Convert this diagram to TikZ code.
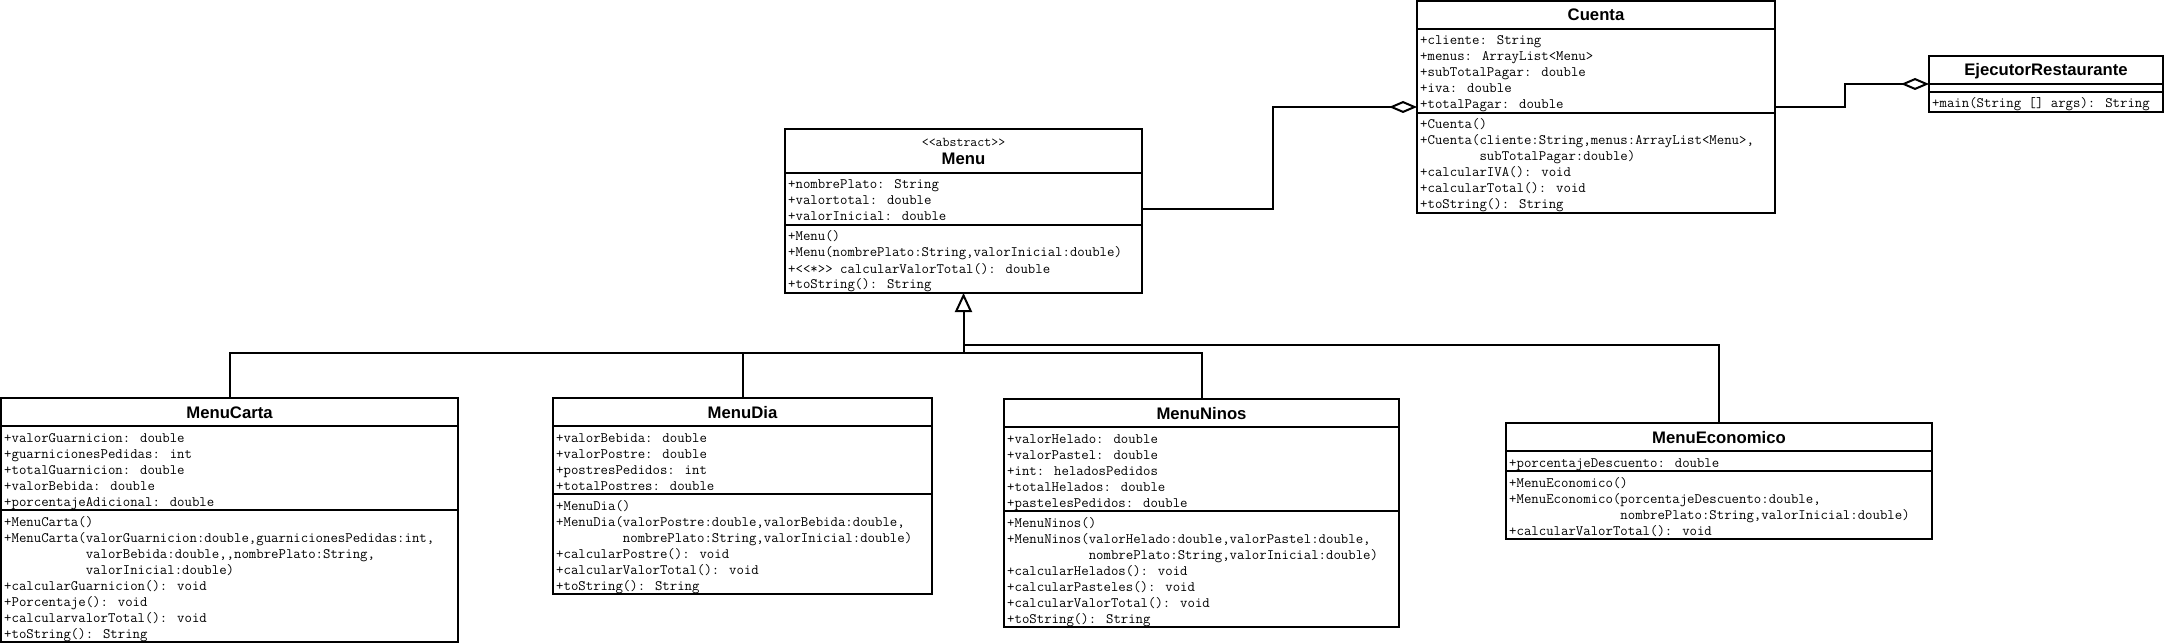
\documentclass[tikz,border=0pt]{standalone}
\usepackage{fontspec}
\setsansfont{Liberation Sans}
\usetikzlibrary{arrows.meta}
\tikzset{
  cbox/.style={draw, line width=2pt, fill=white, inner sep=0pt, outer sep=0pt, anchor=north west},
  sepline/.style={line width=2pt},
  conn/.style={line width=2pt, line join=miter},
  rowtext/.style={anchor=base west, inner sep=0pt, font=\ttfamily\fontsize{14.4}{16}\selectfont},
  titletext/.style={anchor=base, inner sep=0pt, font=\sffamily\bfseries\fontsize{16.7}{20}\selectfont},
  stereo/.style={anchor=base, inner sep=0pt, font=\ttfamily\fontsize{13.5}{14}\selectfont},
  aggtip/.tip={Diamond[open, length=28pt, width=12pt]},
  gentip/.tip={Triangle[open, length=19pt, width=17pt]},
}
\newcommand\umlrows[4]{\foreach \rowtxt [count=\ri] in {#4} {\node[rowtext, name=#1-\ri] at (#2+3, #3+16*\ri) {\rowtxt};}}
\newcommand\umlsep[2]{\draw[sepline] (#1.west |- 0,#2) -- (#1.east |- 0,#2);}
\begin{document}
\begin{tikzpicture}[x=1pt, y=-1pt]
\useasboundingbox (0,0) rectangle (2165,644);
\fill[white] (0,0) rectangle (2165,644);

% ---------- Cuenta ----------
\node[cbox, minimum width=358pt, minimum height=212pt] (cuenta) at (1417,1) {};
\node[titletext] (cuenta-t) at (cuenta.north |- 0,21) {Cuenta};
\umlsep{cuenta}{29}
\umlsep{cuenta}{113}
\umlrows{cuentaA}{1417}{29}{+cliente: String, +menus: ArrayList<Menu>, +subTotalPagar: double, +iva: double, +totalPagar: double}
\umlrows{cuentaM}{1417}{113}{+Cuenta(), {+Cuenta(cliente:String,menus:ArrayList<Menu>,}, \hphantom{+Cuenta(}subTotalPagar:double), +calcularIVA(): void, +calcularTotal(): void, +toString(): String}

% ---------- EjecutorRestaurante ----------
\node[cbox, minimum width=234pt, minimum height=56pt] (ejecutor) at (1929,56) {};
\node[titletext] (ejecutor-t) at (ejecutor.north |- 0,76) {EjecutorRestaurante};
\umlsep{ejecutor}{84}
\umlsep{ejecutor}{92}
\umlrows{ejecutorM}{1929}{92}{+main(String [] args): String}

% ---------- Menu ----------
\node[cbox, minimum width=357pt, minimum height=164pt] (menu) at (785,129) {};
\node[stereo] (menu-s) at (menu.north |- 0,147) {<{}<abstract>{}>};
\node[titletext] (menu-t) at (menu.north |- 0,165) {Menu};
\umlsep{menu}{173}
\umlsep{menu}{225}
\umlrows{menuA}{785}{173}{+nombrePlato: String, +valortotal: double, +valorInicial: double}
\umlrows{menuM}{785}{225}{+Menu(), {+Menu(nombrePlato:String,valorInicial:double)}, +<{}<*>{}> calcularValorTotal(): double, +toString(): String}

% ---------- MenuCarta ----------
\node[cbox, minimum width=457pt, minimum height=244pt] (carta) at (1,398) {};
\node[titletext] (carta-t) at (carta.north |- 0,418) {MenuCarta};
\umlsep{carta}{426}
\umlsep{carta}{510}
\umlrows{cartaA}{1}{426}{+valorGuarnicion: double, +guarnicionesPedidas: int, +totalGuarnicion: double, +valorBebida: double, +porcentajeAdicional: double}
\umlrows{cartaM}{1}{510}{+MenuCarta(), {+MenuCarta(valorGuarnicion:double,guarnicionesPedidas:int,}, {\hphantom{+MenuCarta(}valorBebida:double,,nombrePlato:String,}, \hphantom{+MenuCarta(}valorInicial:double), +calcularGuarnicion(): void, +Porcentaje(): void, +calcularvalorTotal(): void, +toString(): String}

% ---------- MenuDia ----------
\node[cbox, minimum width=379pt, minimum height=196pt] (dia) at (553,398) {};
\node[titletext] (dia-t) at (dia.north |- 0,418) {MenuDia};
\umlsep{dia}{426}
\umlsep{dia}{494}
\umlrows{diaA}{553}{426}{+valorBebida: double, +valorPostre: double, +postresPedidos: int, +totalPostres: double}
\umlrows{diaM}{553}{494}{+MenuDia(), {+MenuDia(valorPostre:double,valorBebida:double,}, {\hphantom{+MenuDia(}nombrePlato:String,valorInicial:double)}, +calcularPostre(): void, +calcularValorTotal(): void, +toString(): String}

% ---------- MenuNinos ----------
\node[cbox, minimum width=395pt, minimum height=228pt] (ninos) at (1004,399) {};
\node[titletext] (ninos-t) at (ninos.north |- 0,419) {MenuNinos};
\umlsep{ninos}{427}
\umlsep{ninos}{511}
\umlrows{ninosA}{1004}{427}{+valorHelado: double, +valorPastel: double, +int: heladosPedidos, +totalHelados: double, +pastelesPedidos: double}
\umlrows{ninosM}{1004}{511}{+MenuNinos(), {+MenuNinos(valorHelado:double,valorPastel:double,}, {\hphantom{+MenuNinos(}nombrePlato:String,valorInicial:double)}, +calcularHelados(): void, +calcularPasteles(): void, +calcularValorTotal(): void, +toString(): String}

% ---------- MenuEconomico ----------
\node[cbox, minimum width=426pt, minimum height=116pt] (eco) at (1506,423) {};
\node[titletext] (eco-t) at (eco.north |- 0,443) {MenuEconomico};
\umlsep{eco}{451}
\umlsep{eco}{471}
\umlrows{ecoA}{1506}{451}{+porcentajeDescuento: double}
\umlrows{ecoM}{1506}{471}{+MenuEconomico(), {+MenuEconomico(porcentajeDescuento:double,}, {\hphantom{+MenuEconomico(}nombrePlato:String,valorInicial:double)}, +calcularValorTotal(): void}

% ---------- connectors ----------
\coordinate (hub) at (menu.south |- 0,353);
\coordinate (hubE) at (menu.south |- 0,345);
\draw[conn, aggtip-] (cuenta.west |- 0,107) -- (1273,107) |- (menu.east |- 0,209);
\draw[conn, -aggtip] (cuenta.east |- 0,107) -- (1845,107) |- (ejecutor.west |- 0,84);
\draw[conn, -gentip] (hub) -- (menu.south);
\draw[conn] (carta.north) |- (ninos.north |- hub) -- (ninos.north);
\draw[conn] (dia.north) -- (dia.north |- hub);
\draw[conn] (hub) -- (hubE) -| (eco.north);
\end{tikzpicture}
\end{document}
